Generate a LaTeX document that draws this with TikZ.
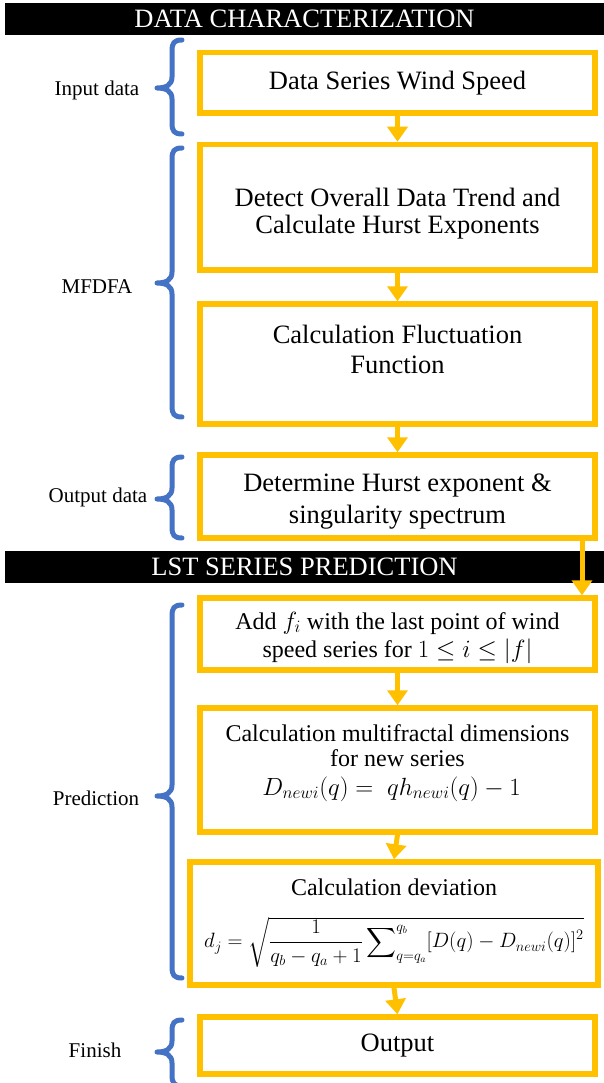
\documentclass[tikz,border=0pt]{standalone}
\usepackage{amsmath}
\usepackage{fontspec}
\setmainfont{Liberation Serif}
\newfontfamily\boxserif{Liberation Serif}
\usetikzlibrary{arrows.meta}
\definecolor{ybox}{HTML}{FFC000}
\definecolor{bbrace}{HTML}{4472C4}

\begin{document}
\begin{tikzpicture}[x=1pt,y=-1pt,
  stepbox/.style={draw=ybox, line width=5.5pt, minimum width=395pt, inner sep=0pt},
  flow/.style={draw=ybox, line width=5pt, -{Triangle[width=20pt,length=15pt]}},
  bracepath/.style={draw=bbrace, line width=5pt, line cap=round, line join=round},
  stagelabel/.style={font=\boxserif\fontsize{21}{24}\selectfont},
  largetext/.style={font=\boxserif\fontsize{26.5}{31}\selectfont, inner sep=0pt},
  mediumtext/.style={font=\boxserif\fontsize{24}{27}\selectfont, inner sep=0pt},
  sectionbar/.style={fill=black, text=white, minimum width=599pt, minimum height=32pt,
    inner sep=0pt, font=\boxserif\fontsize{26.5}{30}\selectfont},
]
\useasboundingbox (0,0) rectangle (604,1083);

% section bars
\node[sectionbar] (bar1) at (304.5,19) {DATA CHARACTERIZATION};
\node[sectionbar] (bar2) at (304.5,567) {LST SERIES PREDICTION};

% flow boxes
\node[stepbox, minimum height=60.5pt] (b1) at (397.5,82.75) {};
\node[stepbox, minimum height=125.5pt] (b2) at (397.5,207.25) {};
\node[stepbox, minimum height=120pt] (b3) at (397.5,364) {};
\node[stepbox, minimum height=83pt] (b4) at (397.5,496.5) {};
\node[stepbox, minimum height=72pt] (b5) at (397.5,634) {};
\node[stepbox, minimum height=124pt] (b6) at (397.5,770) {};
\node[stepbox, minimum height=123pt, minimum width=408pt] (b7) at (394,923.5) {};
\node[stepbox, minimum height=57pt] (b8) at (397.5,1045.5) {};

% box texts, one node per line
\node[largetext] (t1) at (397.5,83) {Data Series Wind Speed};
\node[largetext] (t2a) at (397.5,197) {Detect Overall Data Trend and};
\node[largetext] (t2b) at (397.5,227) {Calculate Hurst Exponents};
\node[largetext] (t3a) at (397.5,334) {Calculation Fluctuation};
\node[largetext] (t3b) at (397.5,365) {Function};
\node[largetext] (t4a) at (397.5,486) {Determine Hurst exponent \&};
\node[largetext] (t4b) at (397.5,517) {singularity spectrum};
\node[mediumtext] (t5a) at (397.5,623) {Add $f_i$ with the last point of wind};
\node[mediumtext] (t5b) at (397.5,651) {speed series for $1 \le i \le |f|$};
\node[mediumtext] (t6a) at (397.5,733) {Calculation multifractal dimensions};
\node[mediumtext] (t6b) at (397.5,758) {for new series};
\node[inner sep=0pt, font=\fontsize{27}{30}\selectfont] (f6) at (391.5,789)
  {$D_{newi}(q) =\ q h_{newi}(q) - 1$};
\node[mediumtext] (t7) at (394,887) {Calculation deviation};
\node[inner sep=0pt, font=\fontsize{19.5}{22}\selectfont] (f7) at (394,942)
  {$d_j = \sqrt{\dfrac{1}{q_b - q_a + 1}\displaystyle\sum\nolimits_{q=q_a}^{q_b}[D(q) - D_{newi}(q)]^2}$};
\node[largetext] (t8) at (397.5,1046) {Output};

% connectors
\coordinate (xr) at (582,0);
\draw[flow] (b1.south) -- (b2.north);
\draw[flow] (b2.south) -- (b3.north);
\draw[flow] (b3.south) -- (b4.north);
\draw[flow] (b4.south -| xr) -- (b5.north -| xr);
\draw[flow] (b5.south) -- (b6.north);
\draw[flow] (b6.south) -- (b7.north);
\draw[flow] (b7.south) -- (b8.north);

% stage braces: #1 top, #2 tip, #3 bottom
\newcommand\stagebrace[3]{%
  \draw[bracepath] (182,#1) .. controls (174,#1) and (172,#1+3) .. (172,#1+11)
    -- (172,#2-11) .. controls (172,#2-3) and (166,#2) .. (157,#2)
    .. controls (166,#2) and (172,#2+3) .. (172,#2+11)
    -- (172,#3-11) .. controls (172,#3-3) and (174,#3) .. (182,#3);}
\stagebrace{40}{88}{134}
\stagebrace{148}{283}{417}
\stagebrace{457}{499}{538}
\stagebrace{605}{796}{978}
\stagebrace{1020}{1052}{1086}

% stage labels
\node[stagelabel] (l1) at (97,90) {Input data};
\node[stagelabel] (l2) at (97,287) {MFDFA};
\node[stagelabel] (l3) at (98,497) {Output data};
\node[stagelabel] (l4) at (96,798) {Prediction};
\node[stagelabel] (l5) at (95,1050) {Finish};
\end{tikzpicture}
\end{document}
